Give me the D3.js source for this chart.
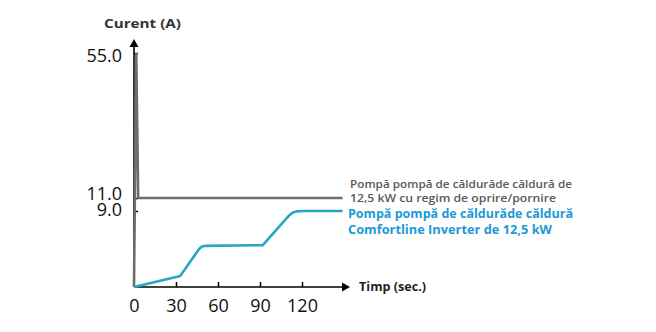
<!DOCTYPE html>
<html><head><meta charset="utf-8">
<script src="https://cdn.jsdelivr.net/npm/d3@7"></script>
<style>body{margin:0;background:#fff}svg{display:block}</style>
</head><body>
<script>
// ---- data ----
const yTicks = [55, 11, 9];
const xTicks = [0, 30, 60, 90, 120];
const onOffTime = [0, 1.6, 3, 149];
const onOffCurrent = [0, 55, 11, 11];
const inverterTime = [0, 33, 46.5, 48.5, 51, 92, 111, 113.5, 116.5, 121, 149];
const inverterCurrent = [0, 1.3, 4.5, 4.8, 4.87, 4.95, 8.5, 8.82, 8.96, 9, 9];
const yTitle = "Curent (A)";
const xTitle = "Timp (sec.)";
const onOffLabel = ["Pompă pompă de căldurăde căldură de", "12,5 kW cu regim de oprire/pornire"];
const inverterLabel = ["Pompă pompă de căldurăde căldură", "Comfortline Inverter de 12,5 kW"];

const W = 656, H = 332;
const svg = d3.select("body").append("svg").attr("width", W).attr("height", H);
const font = "'Open Sans', 'Noto Sans', sans-serif";

const x = d3.scaleLinear().domain([0, 150]).range([134, 344]);
const y = d3.scaleLinear().domain([0, 9, 11, 55]).range([287, 211, 198, 53]);

// x axis
const xa = svg.append("g").attr("transform", `translate(0,${y(0)})`)
  .call(d3.axisBottom(x).tickValues(xTicks).tickSize(-5).tickPadding(12).tickFormat(d3.format("d")));
xa.select(".domain").remove();
xa.selectAll(".tick line").attr("stroke", "#000").attr("stroke-width", 1.5)
  .filter(d => d === 0).remove();
xa.selectAll("text").attr("font-family", font).attr("font-size", 18).attr("fill", "#111");

// y axis
const ya = svg.append("g").attr("transform", `translate(${x(0)},0)`)
  .call(d3.axisLeft(y).tickValues(yTicks).tickSize(-4).tickPadding(12).tickFormat(d3.format(".1f")));
ya.select(".domain").remove();
ya.selectAll(".tick line").attr("stroke", "#000").attr("stroke-width", 1.5);
const yLabelShift = {55: 3, 11: -4, 9: -1.5};
ya.selectAll("text").attr("font-family", font).attr("font-size", 18).attr("fill", "#111")
  .attr("y", d => yLabelShift[d]);

// axis lines with arrows
svg.append("line").attr("x1", x(0)).attr("x2", x(0)).attr("y1", y(0)).attr("y2", 46)
  .attr("stroke", "#000").attr("stroke-width", 1.6);
svg.append("path").attr("d", `M${x(0)},39 L${x(0)-4.5},47 L${x(0)+4.5},47 Z`).attr("fill", "#000");
svg.append("line").attr("x1", x(0)).attr("x2", 343).attr("y1", y(0)).attr("y2", y(0))
  .attr("stroke", "#000").attr("stroke-width", 1.6);
svg.append("path").attr("d", `M350,${y(0)} L342,${y(0)-4.5} L342,${y(0)+4.5} Z`).attr("fill", "#000");

// series
const line = d3.line().x(d => x(d[0])).y(d => y(d[1]));
svg.append("path").datum(d3.zip(onOffTime, onOffCurrent))
  .attr("d", line).attr("fill", "none").attr("stroke", "#6e6e6e").attr("stroke-width", 2.6)
  .attr("stroke-linejoin", "miter");
svg.append("path").datum(d3.zip(inverterTime, inverterCurrent))
  .attr("d", line).attr("fill", "none").attr("stroke", "#27a6c6")
  .attr("stroke-width", 2.6).attr("stroke-linejoin", "round");

// titles
svg.append("text").text(yTitle).attr("x", 104).attr("y", 28).attr("font-family", font)
  .attr("font-weight", 700).attr("font-size", 12.5).attr("fill", "#333")
  .attr("textLength", 77).attr("lengthAdjust", "spacingAndGlyphs");
svg.append("text").text(xTitle).attr("x", 359).attr("y", 291).attr("font-family", font)
  .attr("font-weight", 700).attr("font-size", 12).attr("fill", "#222")
  .attr("textLength", 67).attr("lengthAdjust", "spacingAndGlyphs");

// series labels
const grayLens = [222, 206];
svg.append("g").selectAll("text").data(onOffLabel).join("text")
  .text(d => d).attr("x", 350).attr("y", (d, i) => 188 + i * 13.5)
  .attr("font-family", font).attr("font-weight", 600).attr("font-size", 11.5).attr("fill", "#5a5a5a")
  .attr("textLength", (d, i) => grayLens[i]).attr("lengthAdjust", "spacingAndGlyphs");
const blueLens = [225, 204];
svg.append("g").selectAll("text").data(inverterLabel).join("text")
  .text(d => d).attr("x", 348).attr("y", (d, i) => 218 + i * 16)
  .attr("font-family", font).attr("font-weight", 700).attr("font-size", 12.5).attr("fill", "#1c9ad6")
  .attr("textLength", (d, i) => blueLens[i]).attr("lengthAdjust", "spacingAndGlyphs");
</script>
</body></html>
